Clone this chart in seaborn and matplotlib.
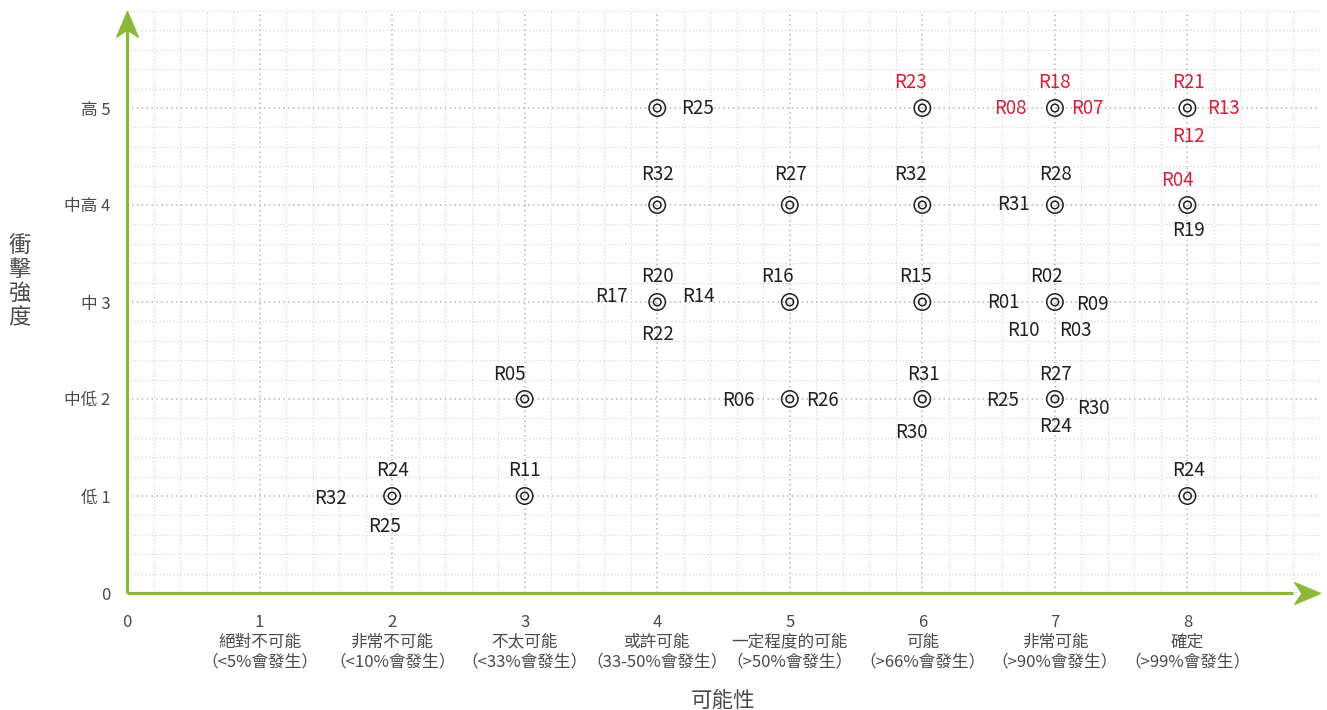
import numpy as np
import pandas as pd
import matplotlib
matplotlib.use("Agg")
import matplotlib.pyplot as plt
from matplotlib.path import Path
from matplotlib.ticker import MultipleLocator
import seaborn as sns

# risk register: id, likelihood (x), impact (y), critical flag (red label)
risk_ids = ["R25", "R23", "R18", "R08", "R07", "R21", "R13", "R12",
            "R32", "R27", "R32", "R28", "R31", "R04", "R19",
            "R20", "R17", "R14", "R22", "R16", "R15",
            "R02", "R01", "R09", "R10", "R03",
            "R05", "R06", "R26", "R31", "R30",
            "R27", "R25", "R30", "R24",
            "R24", "R32", "R25", "R11", "R24"]
likelihood = [4, 6, 7, 7, 7, 8, 8, 8,
              4, 5, 6, 7, 7, 8, 8,
              4, 4, 4, 4, 5, 6,
              7, 7, 7, 7, 7,
              3, 5, 5, 6, 6,
              7, 7, 7, 7,
              2, 2, 2, 3, 8]
impact = [5, 5, 5, 5, 5, 5, 5, 5,
          4, 4, 4, 4, 4, 4, 4,
          3, 3, 3, 3, 3, 3,
          3, 3, 3, 3, 3,
          2, 2, 2, 2, 2,
          2, 2, 2, 2,
          1, 1, 1, 1, 1]
critical = [False, True, True, True, True, True, True, True,
            False, False, False, False, False, True, False,
            False, False, False, False, False, False,
            False, False, False, False, False,
            False, False, False, False, False,
            False, False, False, False,
            False, False, False, False, False]

# label offsets from the marker, in pixels (dx, dy)
offsets = [(40, 0), (-12, 25), (0, 25), (-45, 0), (32, 0), (1, 25), (36, 0), (1, -28),
           (0, 31), (1, 31), (-12, 31), (1, 31), (-41, 1), (-10, 24), (1, -26),
           (0, 25), (-46, 5), (41, 5), (0, -32), (-12, 25), (-7, 25),
           (-8, 25), (-52, -1), (38, -2), (-32, -29), (20, -29),
           (-15, 25), (-51, -2), (33, -2), (1, 25), (-11, -33),
           (1, 25), (-52, -2), (38, -10), (1, -28),
           (0, 25), (-62, -2), (-8, -30), (0, 25), (1, 25)]

x_ticklabels = ["0",
                "1\n絕對不可能\n（<5%會發生）",
                "2\n非常不可能\n（<10%會發生）",
                "3\n不太可能\n（<33%會發生）",
                "4\n或許可能\n（33-50%會發生）",
                "5\n一定程度的可能\n（>50%會發生）",
                "6\n可能\n（>66%會發生）",
                "7\n非常可能\n（>90%會發生）",
                "8\n確定\n（>99%會發生）"]
y_ticklabels = ["0", "低 1", "中低 2", "中 3", "中高 4", "高 5"]

df = pd.DataFrame({"risk": risk_ids, "likelihood": likelihood,
                   "impact": impact, "critical": critical})
cells = df[["likelihood", "impact"]].drop_duplicates()

sns.set_theme(style="white")
plt.rcParams["font.family"] = ["Noto Sans CJK TC", "DejaVu Sans"]

GREEN = "#8cb83a"
RED = "#d4203a"
INK = "#231f20"
GREY = "#4a4a4a"

fig = plt.figure(figsize=(13.27, 7.10), dpi=100)
ax = fig.add_axes([127 / 1327, 117 / 710, 1193 / 1327, 582 / 710])
ax.set_xlim(0, 9)
ax.set_ylim(0, 6)

# dotted grid
ax.xaxis.set_major_locator(MultipleLocator(1))
ax.yaxis.set_major_locator(MultipleLocator(1))
ax.xaxis.set_minor_locator(MultipleLocator(0.2))
ax.yaxis.set_minor_locator(MultipleLocator(0.2))
ax.grid(True, which="major", color="#b5b5b5", linestyle=(0, (1, 2.2)), linewidth=1.1)
ax.grid(True, which="minor", color="#cfcfcf", linestyle=(0, (1, 2.2)), linewidth=0.8)
ax.set_axisbelow(True)
for s in ax.spines.values():
    s.set_visible(False)

# double-circle markers
sns.scatterplot(data=cells, x="likelihood", y="impact", ax=ax, s=140,
                facecolors="none", edgecolor=INK, linewidth=1.1, legend=False, zorder=3)
sns.scatterplot(data=cells, x="likelihood", y="impact", ax=ax, s=30,
                facecolors="none", edgecolor=INK, linewidth=1.1, legend=False, zorder=3)

for (_, r), (dx, dy) in zip(df.iterrows(), offsets):
    ax.annotate(r["risk"], (r["likelihood"], r["impact"]), xytext=(dx, dy),
                textcoords="offset pixels", ha="center", va="center",
                fontsize=13.5, color=RED if r["critical"] else INK, zorder=4)

# green arrow axes
stealth_right = Path([(0, 0), (-1, 0.42), (-0.72, 0), (-1, -0.42), (0, 0)],
                     [Path.MOVETO, Path.LINETO, Path.LINETO, Path.LINETO, Path.CLOSEPOLY])
stealth_up = Path([(0, 0), (0.42, -1), (0, -0.72), (-0.42, -1), (0, 0)],
                  [Path.MOVETO, Path.LINETO, Path.LINETO, Path.LINETO, Path.CLOSEPOLY])
ax.plot([0, 8.8], [0, 0], color=GREEN, lw=2.3, clip_on=False, zorder=5, solid_capstyle="butt")
ax.plot([0, 0], [0, 5.85], color=GREEN, lw=2.3, clip_on=False, zorder=5, solid_capstyle="butt")
ax.plot([9], [0], marker=stealth_right, markersize=37, color=GREEN, clip_on=False, zorder=6)
ax.plot([0], [6], marker=stealth_up, markersize=37, color=GREEN, clip_on=False, zorder=6)

ax.set_xticks(range(9))
ax.set_xticklabels(x_ticklabels, fontsize=12, color=GREY, linespacing=1.2, fontweight="light")
ax.set_yticks(range(6))
ax.set_yticklabels(y_ticklabels, fontsize=12, color=GREY, fontweight="light")
ax.tick_params(axis="both", which="both", length=0)
ax.tick_params(axis="x", pad=15)
ax.tick_params(axis="y", pad=12)

ax.set_xlabel("可能性", fontsize=15.5, color=GREY, labelpad=14, fontweight="light")
ax.set_ylabel("衝\n擊\n強\n度", fontsize=16, color=GREY, rotation=0, fontweight="light",
              linespacing=1.05, va="center", ha="center")
ax.yaxis.set_label_coords(-0.09, 0.535)

fig.savefig("out.png", dpi=100)
